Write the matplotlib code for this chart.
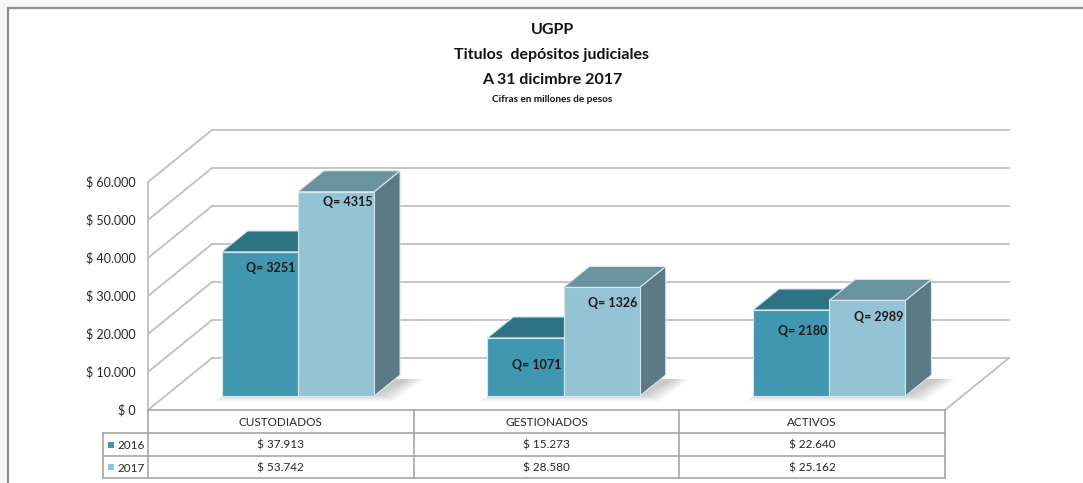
import matplotlib
matplotlib.use("Agg")
import matplotlib.pyplot as plt
from matplotlib.patches import Polygon, Rectangle
from matplotlib.lines import Line2D
from matplotlib.transforms import IdentityTransform

# ---- data ----
categories = ["CUSTODIADOS", "GESTIONADOS", "ACTIVOS"]
series_names = ["2016", "2017"]
values_2016 = [37913, 15273, 22640]
values_2017 = [53742, 28580, 25162]
counts_2016 = [3251, 1071, 2180]
counts_2017 = [4315, 1326, 2989]
yticks = [0, 10000, 20000, 30000, 40000, 50000, 60000]

title_lines = ["UGPP", "Titulos  depósitos judiciales", "A 31 dicimbre 2017"]
subtitle = "Cifras en millones de pesos"

# ---- style ----
W, H = 1083, 483
FONT = "Lato"
plt.rcParams["font.family"] = [FONT, "DejaVu Sans"]
front_cols = ["#4297b0", "#93c3d5"]
top_cols = ["#2f7283", "#6b939f"]
side_cols = ["#2a6373", "#5b7a86"]
edge_col = "#d6e8ee"
grid_col = "#bfbfbf"
txt_col = "#262626"

WALL = (64, 52)      # depth offset of back wall (display px)
BFRONT = (17, 14)    # offset of bar front plane
BDEPTH = (26, 21)    # bar depth
bar_w = 0.287
lab_dy_2016 = [16, 27, 21]
lab_dy_2017 = [10, 16, 17]

fig = plt.figure(figsize=(W / 100, H / 100), dpi=100)
fig.patch.set_facecolor("#f7f7f7")
ID = IdentityTransform()

# frame
fig.patches.append(Rectangle((8, -5), W + 10, H - 8 + 5, transform=ID,
                             facecolor="white", edgecolor="#8c8c8c", lw=1.6, zorder=0))

ax = fig.add_axes([148 / W, (H - 410) / H, 797 / W, 228 / H])
ax.set_xlim(0, 3)
ax.set_ylim(0, 60000)
ax.axis("off")
D = lambda x, y: ax.transData.transform((x, y))

def dline(xs, ys, **kw):
    ln = Line2D(xs, ys, transform=ID, color=grid_col, lw=1.3, zorder=1, **kw)
    fig.lines.append(ln)

# walls and grid
for v in yticks:
    x0, y0 = D(0, v)
    x1, y1 = D(3, v)
    dline([x0, x0 + WALL[0]], [y0, y0 + WALL[1]])
    dline([x0 + WALL[0], x1 + WALL[0]], [y0 + WALL[1], y1 + WALL[1]])
    lab = "$ " + f"{v:,}".replace(",", ".")
    fig.text(x0 - 12, y0, lab, transform=ID, ha="right", va="center",
             fontsize=9, color=txt_col)
x0, yb = D(0, 0)
_, yt = D(0, 60000)
dline([x0, x0], [yb, yt])
xr, yr = D(3, 0)
dline([xr, xr + WALL[0]], [yr, yr + WALL[1]])

# bars
def draw_bar(xc0, val, k):
    xa, ya = D(xc0, 0)
    xb, yb_ = D(xc0 + bar_w, val)
    xa += BFRONT[0]; xb += BFRONT[0]
    ya += BFRONT[1]; yb_ += BFRONT[1]
    dx, dy = BDEPTH
    z = 3 + k
    side = Polygon([(xb, ya), (xb + dx, ya + dy), (xb + dx, yb_ + dy), (xb, yb_)],
                   closed=True, transform=ID, facecolor=side_cols[k],
                   edgecolor=edge_col, lw=0.8, zorder=z)
    top = Polygon([(xa, yb_), (xa + dx, yb_ + dy), (xb + dx, yb_ + dy), (xb, yb_)],
                  closed=True, transform=ID, facecolor=top_cols[k],
                  edgecolor=edge_col, lw=0.8, zorder=z)
    front = Polygon([(xa, ya), (xb, ya), (xb, yb_), (xa, yb_)], closed=True,
                    transform=ID, facecolor=front_cols[k], edgecolor=edge_col,
                    lw=0.8, zorder=z)
    for p in (side, top, front):
        fig.patches.append(p)
    return xa, xb, ya, yb_

def draw_shadow(xl, xr_, yb):
    dx, dy = BDEPTH
    for j in range(7):
        g = 1 + j * 2.5
        sh = Polygon([(xl - g * 0.8 + 6, yb - g * 0.45 + 2),
                      (xr_ + g + 4, yb - g * 0.45 + 2),
                      (xr_ + dx + g + 8, yb + dy - 4),
                      (xl + dx - g * 0.3, yb + dy - 4)],
                     closed=True, transform=ID, facecolor="#000000",
                     edgecolor="none", alpha=0.03, zorder=2)
        fig.patches.append(sh)

for i in range(len(categories)):
    c0 = i + 0.5 - bar_w
    xl, _ = D(c0, 0)
    xr2, yb0 = D(c0 + 2 * bar_w, 0)
    draw_shadow(xl + BFRONT[0], xr2 + BFRONT[0], yb0 + BFRONT[1])
    r1 = draw_bar(c0, values_2016[i], 0)
    r2 = draw_bar(c0 + bar_w, values_2017[i], 1)
    fig.text(r1[1] - 2, r1[3] - lab_dy_2016[i], f"Q= {counts_2016[i]}", transform=ID,
             ha="right", va="center", fontsize=9, fontweight="bold", color="#1a1a1a", zorder=10)
    fig.text(r2[1] - 2, r2[3] - lab_dy_2017[i], f"Q= {counts_2017[i]}", transform=ID,
             ha="right", va="center", fontsize=9, fontweight="bold", color="#1a1a1a", zorder=10)

# data table
y_top = yb
rows = [y_top, y_top - 23, y_top - 46, y_top - 68]
xs = [D(k, 0)[0] for k in range(4)]
leg_x = xs[0] - 45
tcol = "#a6a6a6"
def tline(a, b, c, d):
    fig.lines.append(Line2D([a, b], [c, d], transform=ID, color=tcol, lw=1.2, zorder=1))
tline(xs[0], xs[3], rows[0], rows[0])
for r in rows[1:]:
    tline(leg_x, xs[3], r, r)
for x in xs:
    tline(x, x, rows[0], rows[3])
tline(leg_x, leg_x, rows[1], rows[3])
for i, cat in enumerate(categories):
    xc = (xs[i] + xs[i + 1]) / 2
    fig.text(xc, (rows[0] + rows[1]) / 2 - 1, cat, transform=ID, ha="center",
             va="center", fontsize=8.5, color=txt_col)
    for k, vals in enumerate([values_2016, values_2017]):
        lab = "$ " + f"{vals[i]:,}".replace(",", ".")
        fig.text(xc, (rows[k + 1] + rows[k + 2]) / 2 - 1, lab, transform=ID,
                 ha="center", va="center", fontsize=8.5, color=txt_col)
for k, nm in enumerate(series_names):
    ym = (rows[k + 1] + rows[k + 2]) / 2
    fig.patches.append(Rectangle((leg_x + 5, ym - 3), 6, 6, transform=ID,
                                 facecolor=front_cols[k], edgecolor="none"))
    fig.text(leg_x + 14, ym - 1, nm, transform=ID, ha="left", va="center",
             fontsize=8.5, color=txt_col)

# titles
tx = 552
for j, t in enumerate(title_lines):
    fig.text(tx, H - 30 - 25 * j, t, transform=ID, ha="center", va="center",
             fontsize=11.5, fontweight="bold", color="#111111")
fig.text(tx, H - 100, subtitle, transform=ID, ha="center", va="center",
         fontsize=7.2, fontweight="bold", color="#111111")

fig.savefig("out.png", dpi=100)
